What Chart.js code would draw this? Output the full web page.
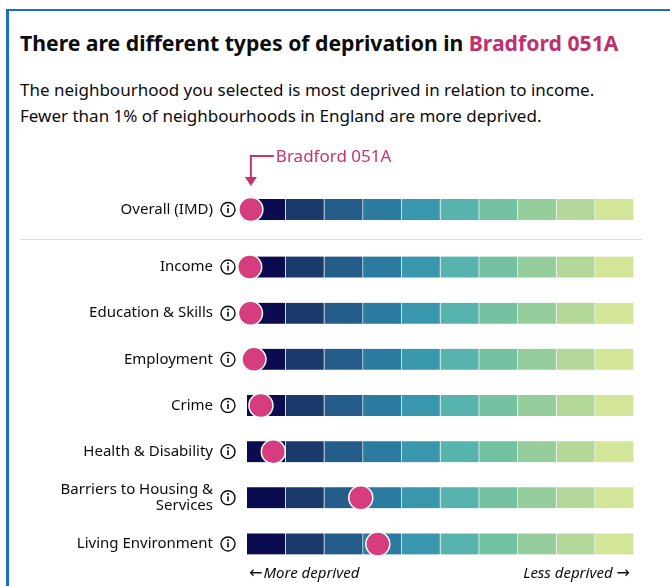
<!doctype html>
<html lang="en">
<head>
  <meta charset="utf-8">
  <title>Types of deprivation</title>
  <script src="https://cdn.jsdelivr.net/npm/chart.js"></script>
  <style>
    body { margin: 0; width: 670px; height: 586px; background: #fff; font-family: "Noto Sans", sans-serif; color: #0b0c0c; overflow: hidden; }
    .frame { position: absolute; left: 6px; top: 9px; width: 680px; height: 600px; border-top: 2px solid #1a6fc4; border-left: 3px solid #1a6fc4; }
    h2 { position: absolute; left: 20px; top: 29px; margin: 0; font-size: 21.2px; line-height: 28px; font-weight: 700; white-space: nowrap; }
    h2 span { color: #c0306f; }
    p { position: absolute; left: 20px; top: 77px; margin: 0; font-size: 17px; line-height: 26px; white-space: nowrap; }
    hr { position: absolute; left: 20px; top: 239px; width: 622px; margin: 0; border: 0; border-top: 1px solid #dcdcdc; }
    #top { position: absolute; left: 0; top: 140px; line-height: 0; }
    #domains { position: absolute; left: 0; top: 244px; line-height: 0; }
  </style>
</head>
<body>
  <div class="frame"></div>
  <h2>There are different types of deprivation in <span>Bradford 051A</span></h2>
  <p>The neighbourhood you selected is most deprived in relation to income.<br>Fewer than 1% of neighbourhoods in England are more deprived.</p>
  <hr>
  <div id="top"><canvas id="overall" width="670" height="92"></canvas></div>
  <div id="domains"><canvas id="chart" width="670" height="342"></canvas></div>
  <script>
    const areaName = 'Bradford 051A';
    const overallLabel = ['Overall (IMD)'];
    const overallRank = [1.0];
    const domainLabels = ['Income', 'Education & Skills', 'Employment', 'Crime', 'Health & Disability',
      ['Barriers to Housing &', 'Services'], 'Living Environment'];
    // percentile position along the bar (0 = most deprived, 100 = least deprived)
    const domainRank = [0.7, 0.9, 1.8, 3.6, 6.8, 29.4, 33.8];
    const decileColors = ['#0b0b50', '#1b3a6c', '#245d8a', '#2b7aa0', '#3896ad', '#56b3ad', '#75c2a3', '#96cd9d', '#b4d899', '#d2e598'];
    const decileWidth = 10;

    const pink = '#c8336f';
    const markPink = '#d63d7f';

    function buildDatasets(labels, ranks) {
      const sets = decileColors.map(c => ({
        type: 'bar',
        data: labels.map(() => decileWidth),
        backgroundColor: c,
        borderColor: 'rgba(225,238,238,0.45)',
        borderWidth: { right: 1, left: 0, top: 0, bottom: 0 },
        borderSkipped: false,
        barThickness: 21,
        order: 1
      }));
      sets.push({
        type: 'bubble',
        data: labels.map((l, i) => ({ x: ranks[i], y: Array.isArray(l) ? l.join(' ') : l })),
        backgroundColor: markPink,
        borderColor: '#fff',
        borderWidth: 1.5,
        radius: 12,
        clip: false,
        order: 0
      });
      return sets;
    }

    const infoIcons = {
      id: 'infoIcons',
      afterDraw(chart) {
        const ctx = chart.ctx, y = chart.scales.y;
        ctx.save();
        y.ticks.forEach((t, i) => {
          const cy = y.getPixelForTick(i), cx = chart.chartArea.left - 19;
          ctx.beginPath();
          ctx.arc(cx, cy, 7, 0, Math.PI * 2);
          ctx.strokeStyle = '#0b0c0c';
          ctx.lineWidth = 1.4;
          ctx.stroke();
          ctx.fillStyle = '#0b0c0c';
          ctx.fillRect(cx - 0.8, cy - 1.5, 1.6, 5);
          ctx.beginPath();
          ctx.arc(cx, cy - 3.8, 1, 0, Math.PI * 2);
          ctx.fill();
        });
        ctx.restore();
      }
    };

    function baseOptions(padTop, padBottom) {
      return {
        indexAxis: 'y',
        responsive: false,
        animation: false,
        events: [],
        layout: { autoPadding: false, padding: { top: padTop, bottom: padBottom, left: 0, right: 36 } },
        plugins: { legend: { display: false }, tooltip: { enabled: false } },
        scales: {
          x: { type: 'linear', min: 0, max: 100, stacked: true, display: false },
          y: {
            type: 'category', stacked: true,
            grid: { display: false, drawTicks: false }, border: { display: false },
            ticks: { padding: 34, color: '#0b0c0c', font: { family: 'Noto Sans', size: 15, lineHeight: 1.08 } },
            afterFit(s) { s.width = 247; s.paddingTop = 0; s.paddingBottom = 0; }
          }
        }
      };
    }

    const pointer = {
      id: 'pointer',
      afterDraw(chart) {
        const ctx = chart.ctx;
        const x = chart.scales.x.getPixelForValue(overallRank[0]);
        const y0 = 16, y1 = 46;
        ctx.save();
        ctx.strokeStyle = pink; ctx.fillStyle = pink; ctx.lineWidth = 2;
        ctx.beginPath();
        ctx.moveTo(x + 23, y0); ctx.lineTo(x, y0); ctx.lineTo(x, y1 - 6);
        ctx.stroke();
        ctx.beginPath();
        ctx.moveTo(x - 6, y1 - 9); ctx.lineTo(x + 6, y1 - 9); ctx.lineTo(x, y1); ctx.closePath();
        ctx.fill();
        ctx.font = '17px "Noto Sans"';
        ctx.textBaseline = 'middle';
        ctx.fillText(areaName, x + 25, y0 + 1);
        ctx.restore();
      }
    };

    const ends = {
      id: 'ends',
      afterDraw(chart) {
        const ctx = chart.ctx, a = chart.chartArea;
        const textFont = 'italic 15px "Noto Sans"', arrowFont = '16px "DejaVu Sans"';
        ctx.save();
        ctx.fillStyle = '#0b0c0c';
        ctx.textBaseline = 'middle';
        ctx.textAlign = 'left';
        const ty = a.bottom + 7;
        ctx.font = arrowFont;
        ctx.fillText('\u2190', a.left + 2, ty);
        const wl = ctx.measureText('\u2190').width;
        ctx.font = textFont;
        ctx.fillText('More deprived', a.left + 2 + wl + 1, ty);
        ctx.font = arrowFont;
        const wr = ctx.measureText('\u2192').width;
        ctx.fillText('\u2192', a.right - 4 - wr, ty);
        ctx.font = textFont;
        ctx.textAlign = 'right';
        ctx.fillText('Less deprived', a.right - 4 - wr - 4, ty);
        ctx.restore();
      }
    };

    const yLabels = l => l.map(v => Array.isArray(v) ? v.join(' ') : v);

    const topOpts = baseOptions(50, 3);
    new Chart(document.getElementById('overall'), {
      type: 'bar',
      data: { labels: overallLabel, datasets: buildDatasets(overallLabel, overallRank) },
      options: topOpts,
      plugins: [infoIcons, pointer]
    });

    const domOpts = baseOptions(0, 19);
    domOpts.scales.y.labels = yLabels(domainLabels);
    domOpts.scales.y.ticks.callback = (v, i) => domainLabels[i];
    new Chart(document.getElementById('chart'), {
      type: 'bar',
      data: { labels: yLabels(domainLabels), datasets: buildDatasets(domainLabels, domainRank) },
      options: domOpts,
      plugins: [infoIcons, ends]
    });
  </script>
</body>
</html>
